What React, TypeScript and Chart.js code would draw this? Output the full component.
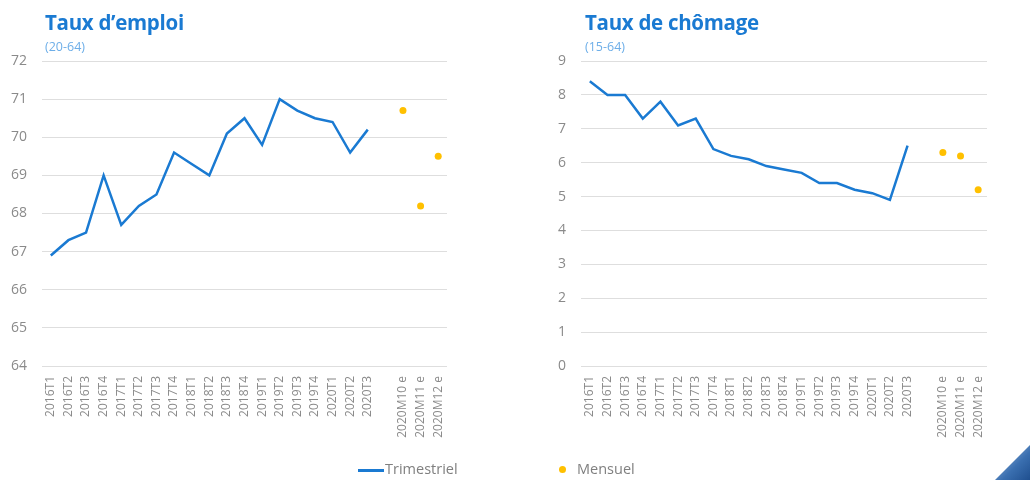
import React, { useEffect, useRef } from "react";
import { Chart, registerables } from "chart.js";

Chart.register(...registerables);

const quarterLabels = [
  "2016T1", "2016T2", "2016T3", "2016T4",
  "2017T1", "2017T2", "2017T3", "2017T4",
  "2018T1", "2018T2", "2018T3", "2018T4",
  "2019T1", "2019T2", "2019T3", "2019T4",
  "2020T1", "2020T2", "2020T3",
];
const gapLabels = [""];
const monthLabels = ["2020M10 e", "2020M11 e", "2020M12 e"];

const emploiTrim = [66.9, 67.3, 67.5, 69.0, 67.7, 68.2, 68.5, 69.6, 69.3, 69.0, 70.1, 70.5, 69.8, 71.0, 70.7, 70.5, 70.4, 69.6, 70.2];
const emploiMens = [70.7, 68.2, 69.5];

const chomageTrim = [8.4, 8.0, 8.0, 7.3, 7.8, 7.1, 7.3, 6.4, 6.2, 6.1, 5.9, 5.8, 5.7, 5.4, 5.4, 5.2, 5.1, 4.9, 6.5];
const chomageMens = [6.3, 6.2, 5.2];

const emploiTicks = { min: 64, max: 72, step: 1 };
const chomageTicks = { min: 0, max: 9, step: 1 };

const BLUE = "#1a7ad2";
const GOLD = "#ffc000";
const GRID = "#dedede";
const TICK = "#8a8a8a";
const FONT = '"Open Sans", "Noto Sans", sans-serif';

function MiniChart(props: { trim: number[]; mens: number[]; ticks: { min: number; max: number; step: number }; yWidth: number }) {
  const ref = useRef<HTMLCanvasElement | null>(null);
  useEffect(() => {
    if (!ref.current) return;
    const labels = [...quarterLabels, ...gapLabels, ...monthLabels];
    const nGap = gapLabels.length + monthLabels.length;
    const trimData = [...props.trim, ...new Array(nGap).fill(null)];
    const mensData = [...new Array(quarterLabels.length + gapLabels.length).fill(null), ...props.mens];
    const chart = new Chart(ref.current, {
      type: "line",
      data: {
        labels,
        datasets: [
          {
            label: "Trimestriel",
            data: trimData,
            borderColor: BLUE,
            backgroundColor: BLUE,
            borderWidth: 2.5,
            pointRadius: 0,
            tension: 0,
            spanGaps: false,
          },
          {
            label: "Mensuel",
            data: mensData,
            showLine: false,
            borderColor: GOLD,
            backgroundColor: GOLD,
            pointRadius: 3.5,
            pointBorderWidth: 0,
          },
        ],
      },
      options: {
        responsive: false,
        animation: false,
        layout: { padding: { top: 61, left: 0, right: 13, bottom: 0 } },
        plugins: {
          legend: { display: false },
          tooltip: { enabled: false },
        },
        scales: {
          x: {
            offset: true,
            grid: { display: false, drawTicks: false },
            border: { display: false },
            ticks: {
              autoSkip: false,
              maxRotation: 90,
              minRotation: 90,
              padding: 10,
              color: TICK,
              font: { family: FONT, size: 12 },
            },
            afterFit: (s: any) => {
              s.height = 94;
              s.paddingLeft = 0;
              s.paddingRight = 0;
            },
          },
          y: {
            min: props.ticks.min,
            max: props.ticks.max,
            grid: { color: GRID, lineWidth: 1, drawTicks: false },
            border: { display: false },
            ticks: {
              stepSize: props.ticks.step,
              padding: 15,
              color: TICK,
              font: { family: FONT, size: 14 },
            },
            afterFit: (s: any) => {
              s.width = props.yWidth;
            },
          },
        },
      },
    });
    return () => chart.destroy();
  }, []);
  return <canvas ref={ref} width={460} height={460} />;
}

export default function App() {
  const titleStyle: React.CSSProperties = {
    position: "absolute",
    top: 8,
    fontFamily: FONT,
    fontWeight: 700,
    fontSize: 20.5,
    color: BLUE,
    letterSpacing: -0.3,
    whiteSpace: "nowrap",
  };
  const subStyle: React.CSSProperties = {
    position: "absolute",
    top: 38,
    fontFamily: FONT,
    fontSize: 12.5,
    color: "#6daee8",
    whiteSpace: "nowrap",
  };
  const legendText: React.CSSProperties = {
    position: "absolute",
    top: 459,
    fontFamily: FONT,
    fontSize: 14.5,
    color: "#7f7f7f",
    whiteSpace: "nowrap",
  };
  return (
    <div
      style={{
        position: "absolute",
        left: 0,
        top: 0,
        width: 1030,
        height: 480,
        background: "#fff",
        overflow: "hidden",
      }}
    >
      <div style={{ position: "absolute", left: 0, top: 0 }}>
        <MiniChart trim={emploiTrim} mens={emploiMens} ticks={emploiTicks} yWidth={42} />
      </div>
      <div style={{ position: "absolute", left: 540, top: 0 }}>
        <MiniChart trim={chomageTrim} mens={chomageMens} ticks={chomageTicks} yWidth={41} />
      </div>
      <div style={{ ...titleStyle, left: 45 }}>Taux d’emploi</div>
      <div style={{ ...subStyle, left: 45 }}>(20-64)</div>
      <div style={{ ...titleStyle, left: 585 }}>Taux de chômage</div>
      <div style={{ ...subStyle, left: 585 }}>(15-64)</div>

      <div style={{ position: "absolute", left: 358, top: 469, width: 26, height: 2.5, background: BLUE }} />
      <div style={{ ...legendText, left: 385 }}>Trimestriel</div>
      <div style={{ position: "absolute", left: 559, top: 466, width: 7, height: 7, borderRadius: "50%", background: GOLD }} />
      <div style={{ ...legendText, left: 577 }}>Mensuel</div>

      <div
        style={{
          position: "absolute",
          left: 995,
          top: 445,
          width: 35,
          height: 35,
          background: "linear-gradient(135deg, #a9c4e4 0%, #3a6fb0 60%, #1f4f8f 100%)",
          clipPath: "polygon(100% 0, 100% 100%, 0 100%)",
        }}
      />
    </div>
  );
}
